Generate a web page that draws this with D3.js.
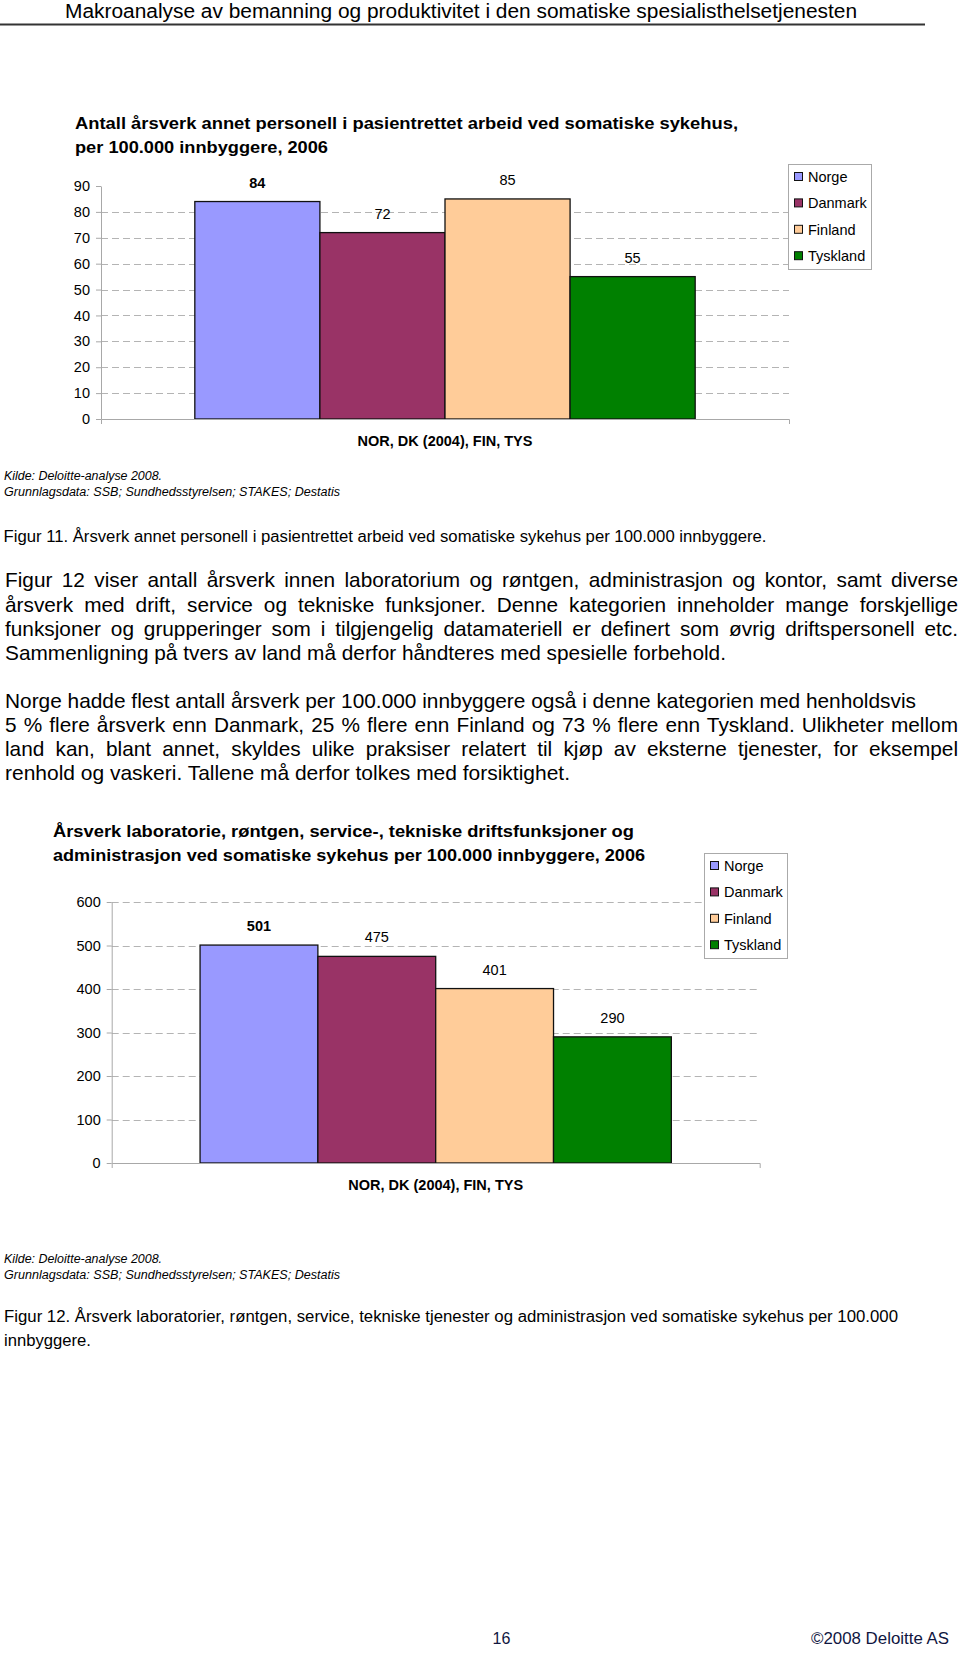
<!DOCTYPE html>
<html>
<head>
<meta charset="utf-8">
<script src="https://cdn.jsdelivr.net/npm/d3@7"></script>
<style>
  body { margin: 0; background: #fff; }
  svg { display: block; font-family: "Liberation Sans", Arial, sans-serif; }
</style>
</head>
<body>
<script>
// chart data
const countries = ["Norge", "Danmark", "Finland", "Tyskland"]
const countryColors = ["#9999ff", "#993366", "#ffcc99", "#008000"]
const categoryLabel = "NOR, DK (2004), FIN, TYS"

const patientValues = [84, 72, 85, 55]
const patientTicks = [0, 10, 20, 30, 40, 50, 60, 70, 80, 90]

const labValues = [501, 475, 401, 290]
const labTicks = [0, 100, 200, 300, 400, 500, 600]

const sourceLines = ["Kilde: Deloitte-analyse 2008.", "Grunnlagsdata: SSB; Sundhedsstyrelsen; STAKES; Destatis"]

const svg = d3.select("body")
  .append("svg")
  .attr("width", 960)
  .attr("height", 1655)

// helper for page text, squeezes the line to the width seen in the reference
function addText(x, y, str, size, opts = {}) {
  let t = svg.append("text")
    .attr("x", x)
    .attr("y", y)
    .attr("font-size", size)
    .attr("fill", opts.fill || "#000")
    .text(str)
  if (opts.bold) t.attr("font-weight", "bold")
  if (opts.italic) t.attr("font-style", "italic")
  if (opts.width) t.attr("textLength", opts.width).attr("lengthAdjust", "spacingAndGlyphs")
  return t
}

// page header
addText(65, 18, "Makroanalyse av bemanning og produktivitet i den somatiske spesialisthelsetjenesten", 20, { width: 792 })
svg.append("line")
  .attr("x1", 0).attr("x2", 925)
  .attr("y1", 24.5).attr("y2", 24.5)
  .attr("stroke", "#333").attr("stroke-width", 2)

function drawChart(cfg) {
  let maxTick = d3.max(cfg.ticks)
  let y = d3.scaleLinear().domain([0, maxTick]).range([cfg.bottom, cfg.top])
  let x0 = d3.scaleBand()
    .domain([categoryLabel])
    .range([cfg.left, cfg.right])
    .paddingInner(0)
    .paddingOuter(0.1875)
  let x1 = d3.scaleBand().domain(countries).range([0, x0.bandwidth()])

  let g = svg.append("g")

  // title
  cfg.title.forEach((line, i) => {
    addText(cfg.titleX, cfg.titleY + i * 24, line, 16, { bold: true, width: cfg.titleWidths[i] })
  })

  // dashed gridlines
  g.append("g")
    .selectAll("line")
    .data(cfg.ticks.filter(t => t > 0 && (cfg.topGrid || t < maxTick)))
    .join("line")
    .attr("x1", cfg.left)
    .attr("x2", cfg.right)
    .attr("y1", d => Math.round(y(d)) + 0.5)
    .attr("y2", d => Math.round(y(d)) + 0.5)
    .attr("stroke", "#b4b4b4")
    .attr("stroke-dasharray", "7,4")

  // bars
  let barGroup = g.append("g")
    .attr("transform", `translate(${x0(categoryLabel)}, 0)`)

  barGroup.selectAll("rect")
    .data(cfg.values)
    .join("rect")
    .attr("x", (d, i) => x1(countries[i]))
    .attr("y", d => y(d))
    .attr("width", x1.bandwidth())
    .attr("height", d => y(0) - y(d))
    .attr("fill", (d, i) => countryColors[i])
    .attr("stroke", "#111")
    .attr("stroke-width", 1.3)

  // value labels, Norway in bold
  barGroup.selectAll("text")
    .data(cfg.values)
    .join("text")
    .attr("x", (d, i) => x1(countries[i]) + x1.bandwidth() / 2)
    .attr("y", d => y(d) - 14)
    .attr("text-anchor", "middle")
    .attr("font-size", 14.5)
    .attr("font-weight", (d, i) => i === 0 ? "bold" : "normal")
    .text(d => d)

  // y axis
  let yAxis = g.append("g")
    .attr("transform", `translate(${cfg.left}, 0)`)
    .call(d3.axisLeft(y).tickValues(cfg.ticks).tickSize(5).tickSizeOuter(0).tickPadding(6))
  yAxis.selectAll("path, line").attr("stroke", "#a8a8a8")
  yAxis.selectAll("text").attr("font-size", 14.5).attr("fill", "#000").attr("font-family", null)

  // x axis
  let xAxis = g.append("g")
    .attr("transform", `translate(0, ${cfg.bottom})`)
    .call(d3.axisBottom(x0).tickValues([]).tickSizeOuter(5))
  xAxis.select(".domain").attr("stroke", "#a8a8a8")

  g.append("text")
    .attr("x", x0(categoryLabel) + x0.bandwidth() / 2)
    .attr("y", cfg.bottom + 27)
    .attr("text-anchor", "middle")
    .attr("font-size", 14.5)
    .attr("font-weight", "bold")
    .text(categoryLabel)

  // legend
  let legend = g.append("g")
    .attr("transform", `translate(${cfg.legendX}, ${cfg.legendY})`)
  legend.append("rect")
    .attr("x", 0.5).attr("y", 0.5)
    .attr("width", 83).attr("height", 105)
    .attr("fill", "#fff")
    .attr("stroke", "#aaa")
  let items = legend.selectAll(".item")
    .data(countries)
    .join("g")
    .attr("class", "item")
    .attr("transform", (d, i) => `translate(0, ${13 + i * 26.4})`)
  items.append("rect")
    .attr("x", 6.5).attr("y", -4.5)
    .attr("width", 8).attr("height", 8)
    .attr("fill", (d, i) => countryColors[i])
    .attr("stroke", "#111")
    .attr("stroke-width", 1)
  items.append("text")
    .attr("x", 20)
    .attr("y", 5)
    .attr("font-size", 14.5)
    .text(d => d)

  // source
  sourceLines.forEach((line, i) => {
    addText(4, cfg.sourceY + i * 16, line, 12, { italic: true, width: i === 0 ? 158 : 336 })
  })
}

drawChart({
  values: patientValues,
  ticks: patientTicks,
  topGrid: false,
  left: 101, right: 789, top: 186, bottom: 419,
  title: ["Antall årsverk annet personell i pasientrettet arbeid ved somatiske sykehus,", "per 100.000 innbyggere, 2006"],
  titleX: 75, titleY: 129, titleWidths: [663, 253],
  legendX: 788, legendY: 164,
  sourceY: 480
})

addText(3.5, 541.5, "Figur 11. Årsverk annet personell i pasientrettet arbeid ved somatiske sykehus per 100.000 innbyggere.", 16, { width: 763 })

// body text: [line, baseline, right edge, justified]
const paragraphLines = [
  ["Figur 12 viser antall årsverk innen laboratorium og røntgen, administrasjon og kontor, samt diverse", 587, 958, true],
  ["årsverk med drift, service og tekniske funksjoner. Denne kategorien inneholder mange forskjellige", 611.5, 958, true],
  ["funksjoner og grupperinger som i tilgjengelig datamateriell er definert som øvrig driftspersonell etc.", 636, 958, true],
  ["Sammenligning på tvers av land må derfor håndteres med spesielle forbehold.", 660, 726, false],
  ["Norge hadde flest antall årsverk per 100.000 innbyggere også i denne kategorien med henholdsvis", 707.5, 916, false],
  ["5 % flere årsverk enn Danmark, 25 % flere enn Finland og 73 % flere enn Tyskland. Ulikheter mellom", 732, 958, true],
  ["land kan, blant annet, skyldes ulike praksiser relatert til kjøp av eksterne tjenester, for eksempel", 756, 958, true],
  ["renhold og vaskeri. Tallene må derfor tolkes med forsiktighet.", 780, 570, false]
]
const bodyLeft = 5

// pick a body size from the plain lines, then justify the others with word spacing
let probe = addText(bodyLeft, -50, paragraphLines[3][0], 18)
let bodySize = 18 * (paragraphLines[3][2] - bodyLeft) / probe.node().getComputedTextLength()
probe.remove()

paragraphLines.forEach(([line, yPos, right, justified]) => {
  let t = addText(bodyLeft, yPos, line, bodySize)
  let target = right - bodyLeft
  let natural = t.node().getComputedTextLength()
  let spaces = line.split(" ").length - 1
  if (justified && natural < target) {
    t.style("word-spacing", `${(target - natural) / spaces}px`)
  } else {
    t.attr("textLength", target).attr("lengthAdjust", "spacingAndGlyphs")
  }
})

drawChart({
  values: labValues,
  ticks: labTicks,
  topGrid: true,
  left: 111.7, right: 759.7, top: 902, bottom: 1163,
  title: ["Årsverk laboratorie, røntgen,  service-, tekniske driftsfunksjoner og", "administrasjon ved somatiske sykehus per 100.000 innbyggere, 2006"],
  titleX: 53, titleY: 836.5, titleWidths: [581, 592],
  legendX: 704, legendY: 853,
  sourceY: 1262.5
})

addText(4, 1322, "Figur 12. Årsverk laboratorier, røntgen, service, tekniske tjenester og administrasjon ved somatiske sykehus per 100.000", 16, { width: 894 })
addText(4, 1346, "innbyggere.", 16, { width: 87 })

// footer
addText(492.6, 1644, "16", 16, { fill: "#10163f" })
addText(811, 1644, "©2008 Deloitte AS", 16, { fill: "#10163f", width: 138 })
</script>
</body>
</html>
